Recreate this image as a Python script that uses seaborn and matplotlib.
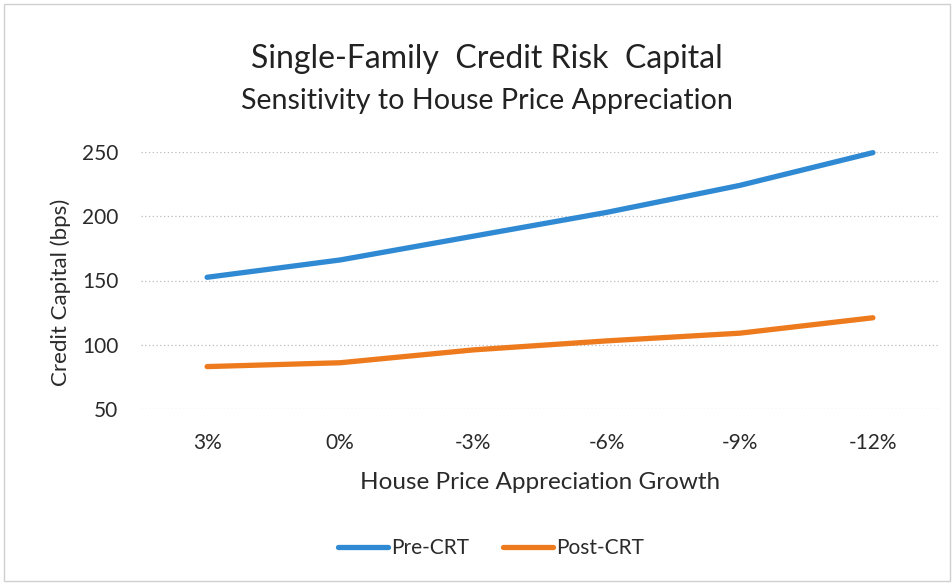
import matplotlib
matplotlib.use("Agg")
import matplotlib.pyplot as plt
import seaborn as sns
import pandas as pd
from matplotlib.patches import Rectangle
from matplotlib.lines import Line2D

categories = ["3%", "0%", "-3%", "-6%", "-9%", "-12%"]
pre_crt = [152.5, 166, 184.5, 203, 224, 249.5]
post_crt = [83, 86, 96, 103, 109, 121]
series_names = ["Pre-CRT", "Post-CRT"]
y_ticks = [50, 100, 150, 200, 250]

df = pd.DataFrame({
    "cat": categories * 2,
    "pos": list(range(len(categories))) * 2,
    "value": pre_crt + post_crt,
    "series": [series_names[0]] * len(categories) + [series_names[1]] * len(categories),
})

sns.set_theme(style="white")
plt.rcParams["font.family"] = ["Lato", "DejaVu Sans"]

fig = plt.figure(figsize=(9.53, 5.85), dpi=100)
ax = fig.add_axes([140.5 / 953, 176 / 585, 799 / 953, 257 / 585])

palette = {"Pre-CRT": "#2F8AD3", "Post-CRT": "#EE7A1E"}
sns.lineplot(data=df, x="pos", y="value", hue="series", palette=palette,
             linewidth=3.8, ax=ax, legend=False, solid_capstyle="round")

ax.set_xlim(-0.5, len(categories) - 0.5)
ax.set_ylim(50, 250)
ax.set_yticks(y_ticks)
ax.set_xticks(range(len(categories)))
ax.set_xticklabels(categories)
ax.tick_params(axis="both", length=0, labelsize=15, colors="#2A2A2A")
ax.tick_params(axis="y", pad=16)
ax.tick_params(axis="x", pad=17)
ax.yaxis.grid(True, linestyle=(0, (1, 2)), color="#BBBBBB", linewidth=0.9)
ax.set_axisbelow(True)
for s in ax.spines.values():
    s.set_visible(False)
for ln in ax.lines:
    ln.set_clip_on(False)

ax.set_xlabel("House Price Appreciation Growth", fontsize=17.5, color="#2A2A2A", labelpad=14)
ax.set_ylabel("Credit Capital (bps)", fontsize=16, color="#2A2A2A")
ax.yaxis.set_label_coords((71 - 140.5) / 799, (409 - 292) / 257)

fig.text(487 / 953, 1 - 59 / 585, "Single-Family  Credit Risk  Capital", ha="center", va="center",
         fontsize=23, color="#222222")
fig.text(487 / 953, 1 - 101 / 585, "Sensitivity to House Price Appreciation", ha="center", va="center",
         fontsize=20.6, color="#222222")

handles = [Line2D([0], [0], color=palette[n], linewidth=3.8, solid_capstyle="round") for n in series_names]
fig.legend(handles, series_names, loc="center", bbox_to_anchor=(491 / 953, 1 - 548 / 585),
           ncol=2, frameon=False, fontsize=15, handlelength=2.4, handletextpad=0.15, columnspacing=1.6,
           labelcolor="#2A2A2A")

fig.patches.append(Rectangle((4 / 953, 4 / 585), 946 / 953, 577 / 585, transform=fig.transFigure,
                             fill=False, edgecolor="#D0D0D0", linewidth=1))

fig.savefig("out.png", dpi=100)
